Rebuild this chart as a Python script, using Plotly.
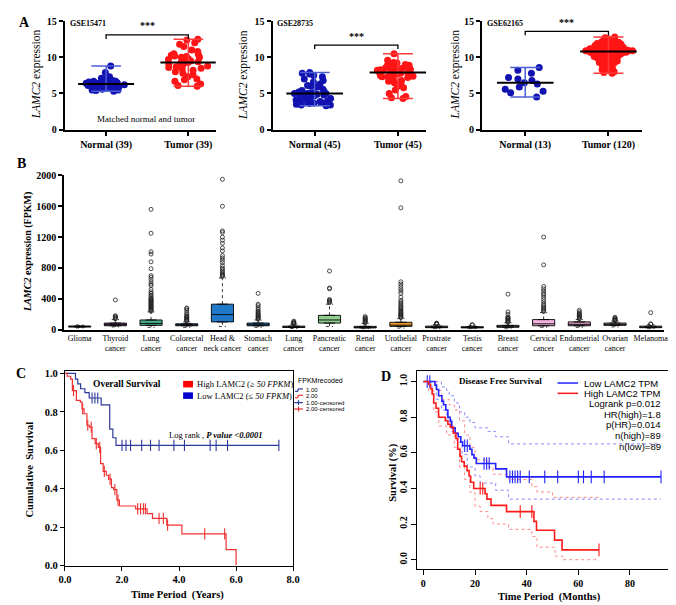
import plotly.graph_objects as go
import numpy as np

W, H = 676, 605
SERIF = "Liberation Serif"
SANS = "Liberation Sans"


def px(x):
    return x / W


def py(y):
    return 1 - y / H


# ---------------- Panel A data ----------------
A1_NORMAL = [8.8, 7.9, 7.3, 7.1, 7.0, 6.9, 6.8, 6.7, 6.7, 6.6, 6.6, 6.5, 6.5, 6.5, 6.4,
             6.4, 6.4, 6.3, 6.3, 6.3, 6.2, 6.2, 6.2, 6.1, 6.1, 6.0, 6.0, 5.9, 5.9, 5.8,
             5.8, 5.7, 5.7, 5.6, 5.5, 5.5, 5.4, 5.3, 6.6]
A1_TUMOR = [12.5, 12.4, 12.0, 11.8, 11.5, 11.0, 10.8, 10.5, 10.4, 10.3, 10.2, 10.1, 10.0,
            10.0, 9.8, 9.7, 9.6, 9.5, 9.4, 9.3, 9.2, 9.0, 8.9, 8.8, 8.7, 8.6, 8.5, 8.4,
            8.2, 8.0, 7.8, 7.6, 7.3, 7.0, 6.9, 6.7, 6.3, 6.1, 6.0]
A2_NORMAL = [7.9, 7.8, 7.7, 7.5, 7.3, 7.0, 6.8, 6.6, 6.3, 6.1, 6.0, 5.9, 5.6, 5.4, 5.3,
             5.2, 5.1, 5.1, 5.0, 5.0, 5.0, 5.0, 5.0, 4.9, 4.8, 4.7, 4.6, 4.5, 4.4, 4.3,
             4.2, 4.1, 4.0, 4.0, 3.9, 3.9, 3.8, 3.8, 3.7, 3.6, 3.6, 3.5, 3.4, 3.4, 3.3]
A2_TUMOR = [10.5, 9.6, 9.3, 9.2, 9.0, 9.0, 8.9, 8.8, 8.7, 8.6, 8.5, 8.5, 8.4, 8.3, 8.3,
            8.2, 8.2, 8.1, 8.0, 8.0, 7.9, 7.9, 7.9, 7.8, 7.8, 7.7, 7.6, 7.5, 7.5, 7.4,
            7.3, 7.3, 7.2, 7.0, 6.8, 6.7, 6.5, 6.3, 6.0, 5.8, 5.5, 5.0, 4.6, 4.4, 4.3]
A3_NORMAL = [8.6, 8.2, 7.8, 7.2, 7.0, 6.8, 6.5, 6.3, 5.9, 5.6, 5.3, 5.1, 4.5]
A3_TUMOR = [12.8, 12.7, 12.6, 12.5, 12.4, 12.3, 12.2, 12.2, 12.1, 12.0,
            12.0, 11.9, 11.9, 11.8, 11.8, 11.7, 11.7, 11.6, 11.6, 11.6,
            11.5, 11.5, 11.5, 11.4, 11.4, 11.4, 11.3, 11.3, 11.3, 11.3,
            11.2, 11.2, 11.2, 11.2, 11.1, 11.1, 11.1, 11.1, 11.0, 11.0,
            11.0, 11.0, 11.0, 10.9, 10.9, 10.9, 10.9, 10.9, 10.9, 10.9,
            10.9, 10.8, 10.8, 10.8, 10.8, 10.8, 10.8, 10.7, 10.7, 10.7,
            10.7, 10.7, 10.6, 10.6, 10.6, 10.6, 10.5, 10.5, 10.5, 10.5,
            10.4, 10.4, 10.4, 10.4, 10.3, 10.3, 10.3, 10.2, 10.2, 10.2,
            10.1, 10.1, 10.1, 10.0, 10.0, 10.0, 9.9, 9.9, 9.9, 9.8,
            9.8, 9.7, 9.7, 9.6, 9.6, 9.5, 9.5, 9.4, 9.3, 9.2,
            9.1, 9.0, 8.9, 8.8, 8.7, 8.6, 8.5, 8.4, 8.3, 8.0,
            7.9, 7.8, 11.3, 11.0, 10.9, 10.6, 10.2, 11.7, 12.1, 10.8]
A1_LABELS = ["Normal (39)", "Tumor (39)"]
A2_LABELS = ["Normal (45)", "Tumor (45)"]
A3_LABELS = ["Normal (13)", "Tumor (120)"]
A_DATASETS = ["GSE15471", "GSE28735", "GSE62165"]
A_BRACKET = [13.1, 11.7, 13.6]
A_YTICKS = [0, 5, 10, 15]

# ---------------- Panel B data ----------------
B_CATS = ["Glioma", "Thyroid<br>cancer", "Lung<br>cancer", "Colorectal<br>cancer",
          "Head &<br>neck cancer", "Stomach<br>cancer", "Lung<br>cancer", "Pancreatic<br>cancer",
          "Renal<br>cancer", "Urothelial<br>cancer", "Prostrate<br>cancer", "Testis<br>cancer",
          "Breast<br>cancer", "Cervical<br>cancer", "Endometrial<br>cancer", "Ovarian<br>cancer",
          "Melanoma"]
B_Q1 = [33, 50, 55, 50, 100, 50, 28, 85, 22, 42, 25, 22, 30, 50, 50, 55, 25]
B_MED = [40, 65, 80, 62, 195, 62, 35, 125, 30, 58, 32, 28, 40, 75, 68, 68, 32]
B_Q3 = [47, 85, 125, 75, 330, 85, 45, 185, 42, 95, 45, 38, 55, 130, 100, 85, 45]
B_LOW = [22, 35, 30, 30, 40, 30, 15, 40, 10, 20, 10, 10, 10, 30, 30, 35, 10]
B_HIGH = [60, 130, 230, 100, 670, 125, 70, 330, 80, 145, 65, 55, 90, 220, 130, 110, 65]
B_OUTLIERS = [
    [],
    [140, 150, 160, 170, 180, 385],
    [240, 250, 260, 270, 280, 290, 300, 310, 320, 330, 340, 350, 360, 370, 380, 390, 400,
     410, 430, 450, 470, 490, 520, 570, 590, 620, 650, 680, 700, 790, 880, 980, 1010, 1250, 1560],
    [110, 120, 130, 140, 150, 160, 170, 180, 200, 220, 250, 270, 280],
    [690, 700, 710, 720, 740, 760, 780, 800, 830, 870, 900, 930, 960, 1020, 1060, 1120,
     1160, 1200, 1260, 1280, 1600, 1950],
    [135, 145, 155, 165, 175, 185, 200, 210, 225, 240, 260, 280, 310, 330, 470],
    [75, 80, 85, 90, 100, 110],
    [350, 360, 370, 380, 390, 530, 540, 760],
    [85, 95, 105, 115, 125, 135, 145, 155, 170],
    [155, 165, 175, 185, 195, 205, 215, 225, 240, 255, 270, 285, 300, 320, 340, 360, 380,
     420, 470, 500, 530, 560, 590, 620, 1580, 1930],
    [70, 75, 80, 85],
    [60, 65],
    [95, 105, 115, 125, 135, 145, 155, 165, 200, 230, 460],
    [235, 245, 260, 275, 290, 310, 330, 360, 390, 420, 450, 470, 500, 530, 560, 840, 1200],
    [140, 150, 160, 170, 180, 190, 200, 210, 230, 250],
    [115, 120, 125, 130, 140, 150, 160],
    [70, 75, 220],
]
B_COLORS = ["#8a8a8a", "#8e5ea2", "#4aab8d", "#3b5f8a", "#1f78c8", "#2c7fc0", "#8a8a8a",
            "#8fce8f", "#9a9a9a", "#f0a030", "#9a9a9a", "#aaaaaa", "#bbbbbb", "#f2b3dc",
            "#d59cc5", "#c8a2c8", "#9a9a9a"]
B_YTICKS = [0, 400, 800, 1200, 1600, 2000]

# ---------------- Panel C data (years) ----------------
C_LOW_T = [0, 0.37, 0.45, 0.55, 0.7, 0.85, 1.27, 1.57, 1.68, 1.79, 7.5]
C_LOW_S = [1.0, 0.97, 0.945, 0.92, 0.90, 0.872, 0.836, 0.71, 0.665, 0.625, 0.625]
C_LOW_CENS = [0.95, 1.05, 1.15, 2.0, 2.14, 2.3, 2.69, 3.0, 3.3, 3.82, 4.19, 5.09, 5.3, 5.7, 7.5]
C_HIGH_T = [0, 0.08, 0.2, 0.26, 0.4, 0.54, 0.6, 0.67, 0.77, 0.86, 0.95, 1.06, 1.17, 1.25,
            1.34, 1.45, 1.53, 1.63, 1.71, 1.82, 1.91, 2.48, 2.88, 3.07, 3.57, 4.1, 5.65, 6.0]
C_HIGH_S = [1.0, 0.985, 0.97, 0.91, 0.86, 0.85, 0.815, 0.79, 0.73, 0.72, 0.66, 0.635, 0.615,
            0.53, 0.49, 0.47, 0.45, 0.405, 0.395, 0.34, 0.31, 0.295, 0.27, 0.245, 0.21,
            0.165, 0.083, 0.0]
C_HIGH_CENS = [0.3, 0.62, 0.8, 0.92, 1.1, 1.22, 1.38, 1.58, 1.75, 1.86, 2.55, 2.65, 2.75,
               2.82, 3.3, 3.45, 3.6, 4.9, 5.6]

# ---------------- Panel D data (months) ----------------
D_LOW_T = [0, 4.5, 5.1, 5.9, 7.2, 7.8, 8.7, 9.5, 10.4, 11.0, 12.3, 13.5, 14.5, 15.2, 18.0,
           18.8, 19.6, 20.5, 28.0, 32.2, 92]
D_LOW_S = [1.0, 0.98, 0.955, 0.92, 0.89, 0.87, 0.84, 0.80, 0.775, 0.74, 0.71, 0.69, 0.66,
           0.64, 0.62, 0.59, 0.57, 0.54, 0.51, 0.465, 0.465]
D_LOW_CENS = [1.5, 2.5, 16.0, 17.0, 23.5, 24.5, 25.5, 33.5, 34.5, 35.5, 36.5, 37.5, 41, 47,
              52, 60, 62, 65, 70, 92]
D_HIGH_T = [0, 2.0, 2.8, 3.4, 4.0, 4.9, 5.9, 8.5, 9.5, 10.4, 11.6, 12.6, 13.3, 14.2, 14.8,
            15.8, 16.9, 17.7, 18.3, 19.5, 23.9, 24.6, 26.2, 32.2, 42.8, 43.8, 50.8, 53.7, 68]
D_HIGH_S = [1.0, 0.985, 0.96, 0.93, 0.88, 0.85, 0.80, 0.78, 0.76, 0.745, 0.71, 0.68, 0.62,
            0.58, 0.55, 0.525, 0.50, 0.47, 0.435, 0.40, 0.37, 0.34, 0.305, 0.27, 0.215,
            0.165, 0.11, 0.055, 0.055]
D_HIGH_CENS = [22.0, 23.0, 37.5, 42.0, 68]
D_LOW_UP_T = [0, 7, 9, 10, 12, 14, 16, 18, 20, 25, 28, 33, 92]
D_LOW_UP_S = [1.0, 0.97, 0.95, 0.92, 0.88, 0.83, 0.80, 0.77, 0.74, 0.72, 0.69, 0.65, 0.65]
D_LOW_LO_T = [0, 3, 5, 7, 9, 11, 13, 15, 17, 20, 22, 28, 33, 92]
D_LOW_LO_S = [1.0, 0.97, 0.90, 0.84, 0.79, 0.72, 0.66, 0.59, 0.52, 0.47, 0.43, 0.39, 0.34, 0.34]
D_HIGH_UP_T = [0, 5, 7, 10, 12, 14, 16, 18, 20, 25, 27, 33, 42, 44, 50, 68]
D_HIGH_UP_S = [1.0, 0.95, 0.90, 0.87, 0.84, 0.78, 0.70, 0.63, 0.56, 0.52, 0.48, 0.45, 0.41,
               0.38, 0.35, 0.35]
D_HIGH_LO_T = [0, 2, 4, 6, 9, 12, 14, 16, 18, 20, 22, 25, 27, 33, 42, 44, 51, 54, 68]
D_HIGH_LO_S = [1.0, 0.95, 0.83, 0.75, 0.70, 0.63, 0.52, 0.45, 0.38, 0.30, 0.27, 0.23, 0.20,
               0.17, 0.13, 0.07, 0.02, 0.0, 0.0]
D_STATS = ["Logrank p=0.012", "HR(high)=1.8", "p(HR)=0.014", "n(high)=89", "n(low)=89"]

BLUE = "#1212b0"
RED = "#ff1515"
BLUE_W = "#4a5ed6"
RED_W = "#ff3a3a"
C_BLUE = "#2d3a9a"
C_RED = "#f03030"
D_BLUE = "#2222ff"
D_RED = "#ff1a1a"

fig = go.Figure()

# ---------------- Panel A traces ----------------
A_SETS = [(A1_NORMAL, A1_TUMOR, "x", "y"), (A2_NORMAL, A2_TUMOR, "x2", "y2"),
          (A3_NORMAL, A3_TUMOR, "x3", "y3")]
for k, (nv, tv, xa, ya) in enumerate(A_SETS):
    for pos, vals, col, wcol in [(0, nv, BLUE, BLUE_W), (1, tv, RED, RED_W)]:
        v = np.array(vals)
        lo, hi, med = float(v.min()), float(v.max()), float(np.median(v))
        cw = 0.18
        fig.add_trace(go.Scatter(
            x=[pos, pos, None, pos - cw, pos + cw, None, pos - cw, pos + cw],
            y=[lo, hi, None, lo, lo, None, hi, hi],
            mode="lines", line=dict(color=wcol, width=1.5), xaxis=xa, yaxis=ya,
            showlegend=False, hoverinfo="skip"))
        fig.add_trace(go.Box(
            x=[pos] * len(vals), y=vals, boxpoints="all", jitter=1.0, pointpos=0, width=0.58,
            fillcolor="rgba(0,0,0,0)", line=dict(width=0, color="rgba(0,0,0,0)"),
            marker=dict(color=col, size=7), xaxis=xa, yaxis=ya, showlegend=False))
        mw = 0.34
        fig.add_trace(go.Scatter(
            x=[pos - mw, pos + mw], y=[med, med], mode="lines",
            line=dict(color="black", width=2), xaxis=xa, yaxis=ya, showlegend=False,
            hoverinfo="skip"))
    b = A_BRACKET[k]
    fig.add_trace(go.Scatter(
        x=[0, 0, 1, 1], y=[b - 0.55, b, b, b - 0.55], mode="lines",
        line=dict(color="black", width=1.3), xaxis=xa, yaxis=ya, showlegend=False,
        hoverinfo="skip"))

# ---------------- Panel B traces ----------------
for i in range(len(B_CATS)):
    fig.add_trace(go.Scatter(
        x=[i, i, None, i, i, None, i - 0.1, i + 0.1, None, i - 0.1, i + 0.1],
        y=[B_Q3[i], B_HIGH[i], None, B_Q1[i], B_LOW[i], None, B_HIGH[i], B_HIGH[i], None,
           B_LOW[i], B_LOW[i]],
        mode="lines", line=dict(color="black", width=0.8, dash="dot"),
        xaxis="x4", yaxis="y4", showlegend=False, hoverinfo="skip"))
    fig.add_trace(go.Box(
        x=[i], q1=[B_Q1[i]], median=[B_MED[i]], q3=[B_Q3[i]],
        lowerfence=[B_Q1[i]], upperfence=[B_Q3[i]], width=0.62,
        fillcolor=B_COLORS[i], line=dict(color="black", width=0.9),
        xaxis="x4", yaxis="y4", showlegend=False, boxpoints=False))
    if B_OUTLIERS[i]:
        fig.add_trace(go.Scatter(
            x=[i] * len(B_OUTLIERS[i]), y=B_OUTLIERS[i], mode="markers",
            marker=dict(symbol="circle-open", size=4, color="#222222", line=dict(width=0.8)),
            xaxis="x4", yaxis="y4", showlegend=False))


# ---------------- KM helpers ----------------
def surv_at(t, times, surv):
    idx = int(np.searchsorted(times, t, side="right")) - 1
    return surv[max(idx, 0)]


def km(times, surv, cens, color, xa, ya, width=1.2, tick=8):
    fig.add_trace(go.Scatter(x=times, y=surv, mode="lines", line_shape="hv",
                             line=dict(color=color, width=width), xaxis=xa, yaxis=ya,
                             showlegend=False))
    fig.add_trace(go.Scatter(x=cens, y=[surv_at(c, times, surv) for c in cens], mode="markers",
                             marker=dict(symbol="line-ns-open", size=tick, color=color,
                                         line=dict(color=color, width=1.1)),
                             xaxis=xa, yaxis=ya, showlegend=False))


# ---------------- Panel C ----------------
km(C_LOW_T, C_LOW_S, C_LOW_CENS, C_BLUE, "x5", "y5")
km(C_HIGH_T, C_HIGH_S, C_HIGH_CENS, C_RED, "x5", "y5")

# ---------------- Panel D ----------------
for t, s, c in [(D_LOW_UP_T, D_LOW_UP_S, "#8a8aff"), (D_LOW_LO_T, D_LOW_LO_S, "#8a8aff"),
                (D_HIGH_UP_T, D_HIGH_UP_S, "#ff8a8a"), (D_HIGH_LO_T, D_HIGH_LO_S, "#ff8a8a")]:
    fig.add_trace(go.Scatter(x=t, y=s, mode="lines", line_shape="hv",
                             line=dict(color=c, width=1, dash="dot"), xaxis="x6", yaxis="y6",
                             showlegend=False))
km(D_LOW_T, D_LOW_S, D_LOW_CENS, D_BLUE, "x6", "y6", width=1.6, tick=9)
km(D_HIGH_T, D_HIGH_S, D_HIGH_CENS, D_RED, "x6", "y6", width=1.6, tick=9)


# ---------------- Layout ----------------
def tf(size, bold=True, family=SERIF):
    return dict(family=family, size=size, color="black", weight="bold" if bold else "normal")


def a_x(dom, rng, labels, anchor):
    return dict(domain=dom, range=rng, tickvals=[0, 1], ticktext=labels, showline=True,
                linecolor="black", linewidth=2, ticks="outside", ticklen=4, tickwidth=2,
                tickcolor="black", showgrid=False, zeroline=False, anchor=anchor,
                tickfont=tf(10))


def a_y(dom, anchor):
    return dict(domain=dom, range=[0, 15], tickvals=A_YTICKS, showline=True, linecolor="black",
                linewidth=2, ticks="outside", ticklen=4, tickwidth=2, tickcolor="black",
                showgrid=False, zeroline=False, anchor=anchor, tickfont=tf(10))


ydomA = [py(118), py(7.3)]
layout = dict(
    width=W, height=H, margin=dict(l=0, r=0, t=0, b=0), paper_bgcolor="white",
    plot_bgcolor="white", showlegend=False, boxmode="overlay",
    xaxis=a_x([px(50.7), px(205)], [-0.504, 1.333], A1_LABELS, "y"),
    yaxis=a_y(ydomA, "x"),
    xaxis2=a_x([px(263), px(420)], [-0.506, 1.341], A2_LABELS, "y2"),
    yaxis2=a_y(ydomA, "x2"),
    xaxis3=a_x([px(477), px(640)], [-0.518, 1.4], A3_LABELS, "y3"),
    yaxis3=a_y(ydomA, "x3"),
    xaxis4=dict(domain=[px(50), px(663)], range=[-0.44, 16.38], tickvals=list(range(17)),
                ticktext=B_CATS, tickangle=0, showline=True, linecolor="black", linewidth=1.5,
                ticks="", showgrid=False, zeroline=False, anchor="y4",
                tickfont=dict(family=SERIF, size=8, color="black")),
    yaxis4=dict(domain=[py(322), py(164.7)], range=[0, 2000], tickvals=B_YTICKS,
                showline=True, linecolor="black", linewidth=1.5, ticks="outside", ticklen=4,
                tickwidth=1.5, tickcolor="black", showgrid=False, zeroline=False, anchor="x4",
                tickfont=tf(10)),
    xaxis5=dict(domain=[px(51), px(284)], range=[0, 8], tickvals=[0, 2, 4, 6, 8],
                tickformat=".1f", showline=True, mirror=True, linecolor="black", linewidth=1,
                ticks="outside", ticklen=4, tickwidth=1, tickcolor="black", showgrid=False,
                zeroline=False, anchor="y5", tickfont=tf(10.5)),
    yaxis5=dict(domain=[py(562.7), py(364.7)], range=[0, 1.01],
                tickvals=[0, 0.2, 0.4, 0.6, 0.8, 1.0], tickformat=".1f", showline=True,
                mirror=True, linecolor="black", linewidth=1, ticks="outside", ticklen=4,
                tickwidth=1, tickcolor="black", showgrid=False, zeroline=False, anchor="x5",
                tickfont=tf(10.5)),
    xaxis6=dict(domain=[px(410), px(671)], range=[-2.65, 96.3], tickvals=[0, 20, 40, 60, 80],
                showline=True, mirror=True, linecolor="black", linewidth=1, ticks="outside",
                ticklen=5, tickwidth=1, tickcolor="black", showgrid=False, zeroline=False,
                anchor="y6", tickfont=tf(10)),
    yaxis6=dict(domain=[py(566), py(364)], range=[-0.051, 1.0605],
                tickvals=[0, 0.2, 0.4, 0.6, 0.8, 1.0], tickformat=".1f", tickangle=-90,
                showline=True, mirror=True, linecolor="black", linewidth=1, ticks="outside",
                ticklen=5, tickwidth=1, tickcolor="black", showgrid=False, zeroline=False,
                anchor="x6", tickfont=tf(10)),
)


def ann(x, y, text, size, family=SERIF, bold=False, xanchor="center", yanchor="middle",
        angle=0):
    return dict(x=px(x), y=py(y), xref="paper", yref="paper", text=text, showarrow=False,
                font=tf(size, bold, family), xanchor=xanchor, yanchor=yanchor, textangle=angle)


annotations = [
    ann(9.5, 9, "A", 14, bold=True), ann(7, 153, "B", 14, bold=True),
    ann(6, 367, "C", 14, bold=True), ann(379, 370, "D", 14, bold=True),
    # A titles / labels
    ann(22, 62, "<i>LAMC2</i> expression", 11.5, angle=-90),
    ann(234, 62, "<i>LAMC2</i> expression", 11.5, angle=-90),
    ann(450, 62, "<i>LAMC2</i> expression", 11.5, angle=-90),
    ann(54, 10, A_DATASETS[0], 8, bold=True, xanchor="left"),
    ann(266, 10, A_DATASETS[1], 8, bold=True, xanchor="left"),
    ann(480, 10, A_DATASETS[2], 8, bold=True, xanchor="left"),
    ann(134, 107, "Matched normal and tumor", 9),
    # B
    ann(13, 243, "<i>LAMC2</i> expression (FPKM)", 10, bold=True, angle=-90),
    # C
    ann(15, 465, "Cumulative  Survival", 10.5, bold=True, angle=-90),
    ann(166, 593, "Time Period  (Years)", 10.5, bold=True),
    ann(78, 377, "Overall Survival", 9.5, bold=True, xanchor="left"),
    ann(184, 377.6, "High LAMC2 (≥ <i>50 FPKM</i>)", 8.5, xanchor="left"),
    ann(184, 389.3, "Low LAMC2 (≤ <i>50 FPKM</i>)", 8.5, xanchor="left"),
    ann(155, 430, "Log rank , <i><b>P value &lt;0.0001</b></i>", 8.5, xanchor="left"),
    ann(287, 373.5, "FPKMrecoded", 7, family=SANS, xanchor="left"),
    ann(295, 383.5, "1.00", 6, family=SANS, xanchor="left"),
    ann(295, 390, "2.00", 6, family=SANS, xanchor="left"),
    ann(295, 396.5, "1.00-censored", 6, family=SANS, xanchor="left"),
    ann(295, 403, "2.00-censored", 6, family=SANS, xanchor="left"),
    # D
    ann(386, 468, "Survival (%)", 10.5, bold=True, angle=-90),
    ann(546, 595, "Time Period  (Months)", 10.5, bold=True),
    ann(451, 374.5, "Disease Free Survival", 9, bold=True, xanchor="left"),
    ann(579, 376.5, "Low LAMC2 TPM", 9.5, family=SANS, xanchor="left"),
    ann(579, 387.0, "High LAMC2 TPM", 9.5, family=SANS, xanchor="left"),
]
for j, s in enumerate(D_STATS):
    annotations.append(ann(662, 397.5 + j * 10.9, s, 9.5, family=SANS, xanchor="right"))
# *** significance labels (axis coordinates)
for k, (xa, ya) in enumerate([("x", "y"), ("x2", "y2"), ("x3", "y3")]):
    annotations.append(dict(x=0.5, y=A_BRACKET[k] + 0.2, xref=xa, yref=ya, text="***",
                            showarrow=False, yanchor="bottom", font=tf(10)))
layout["annotations"] = annotations


def seg(x0, y0, x1, y1, color, width=1.2):
    return dict(type="line", xref="paper", yref="paper", x0=px(x0), y0=py(y0), x1=px(x1),
                y1=py(y1), line=dict(color=color, width=width))


shapes = [
    dict(type="rect", xref="paper", yref="paper", x0=px(171.7), x1=px(181.7), y0=py(381),
         y1=py(374.3), fillcolor="#ff0000", line=dict(width=0)),
    dict(type="rect", xref="paper", yref="paper", x0=px(171.7), x1=px(181.7), y0=py(392.7),
         y1=py(386), fillcolor="#0000cc", line=dict(width=0)),
    seg(286, 385, 289, 385, C_BLUE), seg(289, 385, 289, 382.5, C_BLUE),
    seg(289, 382.5, 294, 382.5, C_BLUE),
    seg(286, 391.5, 289, 391.5, C_RED), seg(289, 391.5, 289, 389, C_RED),
    seg(289, 389, 294, 389, C_RED),
    seg(285, 396.5, 294, 396.5, C_BLUE), seg(289.5, 394, 289.5, 399, C_BLUE),
    seg(285, 403, 294, 403, C_RED), seg(289.5, 400.5, 289.5, 405.5, C_RED),
    seg(554, 376.5, 575, 376.5, D_BLUE, 1.5), seg(554, 387.0, 575, 387.0, D_RED, 1.5),
]
layout["shapes"] = shapes

fig.update_layout(**layout)
fig.write_html("out.html")
